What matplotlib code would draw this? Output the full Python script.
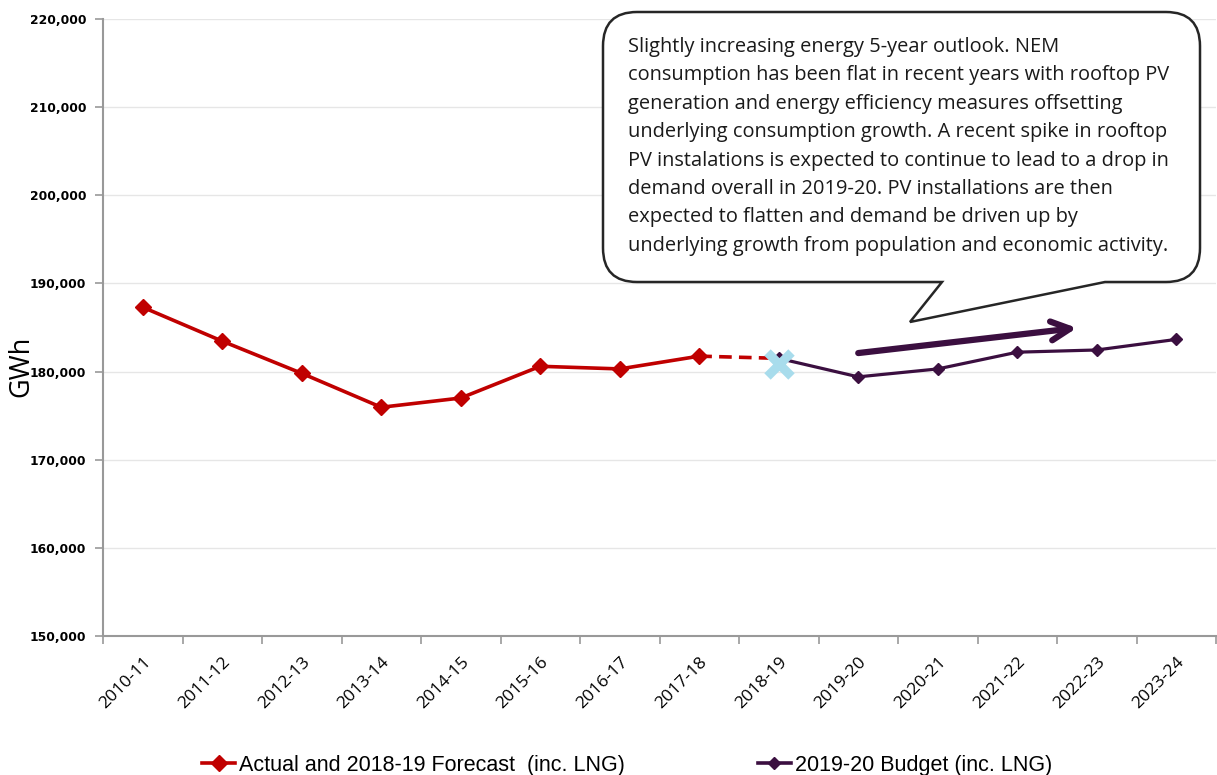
import numpy as np
import matplotlib
matplotlib.use('Agg')
import matplotlib.pyplot as plt
from matplotlib.path import Path
from matplotlib.patches import PathPatch
from matplotlib.lines import Line2D

# data
years = ['2010-11', '2011-12', '2012-13', '2013-14', '2014-15', '2015-16', '2016-17',
         '2017-18', '2018-19', '2019-20', '2020-21', '2021-22', '2022-23', '2023-24']
actual = [187300, 183450, 179800, 175950, 177000, 180600, 180300, 181750]
forecast_1819 = 181500
budget = [181500, 179400, 180300, 182200, 182450, 183650]
estimate_1819 = 180900
trend_start = (9.0, 182100)
trend_end = (11.75, 184950)

note = ("Slightly increasing energy 5-year outlook. NEM\n"
        "consumption has been flat in recent years with rooftop PV\n"
        "generation and energy efficiency measures offsetting\n"
        "underlying consumption growth. A recent spike in rooftop\n"
        "PV instalations is expected to continue to lead to a drop in\n"
        "demand overall in 2019-20. PV installations are then\n"
        "expected to flatten and demand be driven up by\n"
        "underlying growth from population and economic activity.")

red = '#c00000'
purple = '#3b0f40'

fig = plt.figure(figsize=(12.17, 7.75), dpi=100)
ax = fig.add_axes([103 / 1217, 139 / 775, 1113 / 1217, 617 / 775])

x = np.arange(len(years))
ax.plot(x[:8], actual, color=red, lw=2.6, marker='D', ms=8, zorder=3)
ax.plot([7, 8], [actual[-1], forecast_1819], color=red, lw=2.6, ls=(0, (3.5, 2)), zorder=3)
ax.plot(x[8:], budget, color=purple, lw=2.3, marker='D', ms=6, zorder=3)
ax.plot(8, estimate_1819, marker='x', ms=17, mew=6.5, color='#a8dcec', zorder=4)
ax.annotate('', xy=trend_end, xytext=trend_start,
            arrowprops=dict(arrowstyle='->', lw=4.5, color=purple, mutation_scale=34,
                            shrinkA=0, shrinkB=0))

ax.set_xlim(-0.5, len(years) - 0.5)
ax.set_ylim(150000, 220000)
ax.set_yticks(np.arange(150000, 220001, 10000))
ax.set_yticklabels(['{:,}'.format(v) for v in range(150000, 220001, 10000)],
                   fontsize=8.8, fontweight='bold', family='DejaVu Sans')
ax.set_xticks(x)
ax.set_xticklabels(years, rotation=45, ha='right', rotation_mode='anchor',
                   fontsize=12.5, family='Open Sans')
ax.set_xticks(np.arange(-0.5, len(years)), minor=True)
ax.tick_params(axis='x', which='major', length=0, pad=13)
ax.tick_params(axis='x', which='minor', length=6, color='#999999', width=1.2)
ax.tick_params(axis='y', length=6, color='#999999', width=1.2, pad=6)
ax.grid(axis='y', color='#e6e6e6', lw=1)
ax.set_axisbelow(True)
for s in ['top', 'right']:
    ax.spines[s].set_visible(False)
for s in ['left', 'bottom']:
    ax.spines[s].set_color('#999999')
    ax.spines[s].set_linewidth(1.5)
ax.set_ylabel('GWh', fontsize=19.5, family='Open Sans')
ax.yaxis.set_label_coords(-0.061, 0.437)

# callout bubble, drawn in inches from the figure corner
x0, x1 = 6.03, 12.00
yt, yb = 7.63, 4.93
r = 0.34
xa, xb = 9.42, 11.05
tip = (9.10, 4.53)
verts = [(x0 + r, yt), (x1 - r, yt), (x1, yt), (x1, yt - r), (x1, yb + r),
         (x1, yb), (x1 - r, yb), (xb, yb), tip, (xa, yb), (x0 + r, yb),
         (x0, yb), (x0, yb + r), (x0, yt - r), (x0, yt), (x0 + r, yt), (0, 0)]
codes = [Path.MOVETO, Path.LINETO, Path.CURVE3, Path.CURVE3, Path.LINETO,
         Path.CURVE3, Path.CURVE3, Path.LINETO, Path.LINETO, Path.LINETO, Path.LINETO,
         Path.CURVE3, Path.CURVE3, Path.LINETO, Path.CURVE3, Path.CURVE3, Path.CLOSEPOLY]
bubble = PathPatch(Path(verts, codes), facecolor='white', edgecolor='#262626', lw=1.8,
                   transform=fig.dpi_scale_trans, zorder=5)
fig.patches.append(bubble)
fig.text(628 / 1217, 1 - 37 / 775, note, ha='left', va='top', fontsize=14.4,
         family='Open Sans', linespacing=1.56, color='#1a1a1a', zorder=6)

handles = [Line2D([], [], color=red, lw=2.6, marker='D', ms=8),
           Line2D([], [], color=purple, lw=2.6, marker='D', ms=6)]
fig.legend(handles, ['Actual and 2018-19 Forecast  (inc. LNG)', '2019-20 Budget (inc. LNG)'],
           loc='lower left', bbox_to_anchor=(183 / 1217, -0.026), ncol=2, frameon=False,
           prop={'family': 'Liberation Sans', 'size': 15.5}, handlelength=1.5,
           handletextpad=0.2, columnspacing=6.2)

fig.savefig('out.png', dpi=100)
